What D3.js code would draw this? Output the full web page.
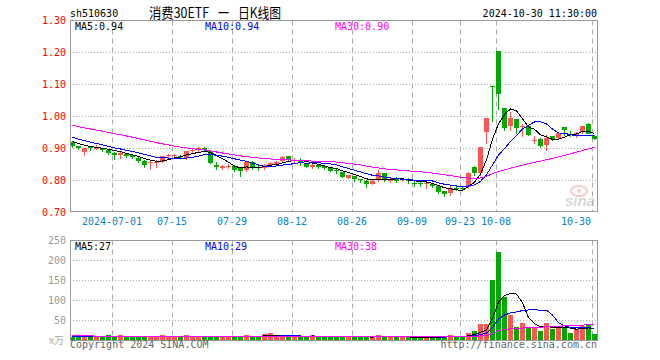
<!DOCTYPE html>
<html>
<head>
<meta charset="utf-8">
<script src="https://cdn.jsdelivr.net/npm/d3@7"></script>
<style>
  body { margin: 0; background: #fff; }
  svg { display: block; }
  text { font-family: "DejaVu Sans Mono", monospace; font-size: 10px; }
</style>
</head>
<body>
<svg id="chart" width="660" height="360"></svg>
<script>
// trading days shown (2024)
var dates = ["06-20","06-21","06-24","06-25","06-26","06-27","06-28",
  "07-01","07-02","07-03","07-04","07-05","07-08","07-09","07-10","07-11","07-12","07-15","07-16","07-17","07-18","07-19","07-22","07-23","07-24","07-25","07-26","07-29","07-30","07-31",
  "08-01","08-02","08-05","08-06","08-07","08-08","08-09","08-12","08-13","08-14","08-15","08-16","08-19","08-20","08-21","08-22","08-23","08-26","08-27","08-28","08-29","08-30",
  "09-02","09-03","09-04","09-05","09-06","09-09","09-10","09-11","09-12","09-13","09-18","09-19","09-20","09-23","09-24","09-25","09-26","09-27","09-30",
  "10-08","10-09","10-10","10-11","10-14","10-15","10-16","10-17","10-18","10-21","10-22","10-23","10-24","10-25","10-28","10-29","10-30"];

var opens = [0.920,0.906,0.889,0.904,0.898,0.900,0.895,0.886,0.880,0.883,0.878,0.870,0.860,0.852,0.856,0.858,0.874,0.877,0.877,0.869,
  0.890,0.893,0.900,0.890,0.848,0.839,0.844,0.844,0.837,0.831,0.858,0.842,0.838,0.848,0.850,0.861,0.875,0.861,0.862,0.852,
  0.841,0.848,0.844,0.840,0.833,0.825,0.808,0.813,0.802,0.798,0.789,0.800,0.821,0.798,0.806,0.801,0.802,0.792,0.790,0.789,
  0.789,0.780,0.765,0.760,0.774,0.775,0.779,0.842,0.821,0.951,1.096,1.204,1.025,0.969,0.991,0.968,0.969,0.925,0.930,0.909,
  0.938,0.932,0.966,0.944,0.940,0.951,0.977,0.938];
var highs = [0.922,0.908,0.902,0.906,0.910,0.902,0.896,0.888,0.887,0.885,0.880,0.871,0.862,0.860,0.862,0.877,0.881,0.883,0.879,0.891,
  0.900,0.903,0.903,0.892,0.857,0.846,0.850,0.847,0.838,0.858,0.860,0.846,0.850,0.857,0.860,0.876,0.877,0.869,0.869,0.853,
  0.852,0.850,0.845,0.841,0.834,0.826,0.817,0.814,0.804,0.800,0.803,0.831,0.823,0.806,0.810,0.806,0.806,0.797,0.795,0.793,
  0.791,0.781,0.767,0.781,0.780,0.781,0.826,0.844,0.905,0.996,1.096,1.204,1.026,1.014,0.992,0.977,0.970,0.938,0.933,0.942,
  0.939,0.948,0.967,0.954,0.952,0.971,0.978,0.940];
var lows = [0.905,0.896,0.878,0.893,0.897,0.890,0.882,0.865,0.870,0.873,0.868,0.858,0.842,0.836,0.840,0.856,0.872,0.871,0.869,0.867,
  0.888,0.891,0.890,0.853,0.836,0.836,0.838,0.829,0.814,0.829,0.836,0.833,0.834,0.846,0.849,0.859,0.860,0.856,0.846,0.840,
  0.837,0.839,0.835,0.828,0.821,0.809,0.806,0.798,0.793,0.777,0.787,0.798,0.798,0.795,0.795,0.796,0.792,0.781,0.781,0.774,
  0.778,0.760,0.750,0.752,0.768,0.771,0.778,0.816,0.817,0.917,0.986,1.022,0.958,0.958,0.948,0.938,0.940,0.915,0.903,0.895,
  0.927,0.930,0.941,0.937,0.936,0.949,0.948,0.929];
var closes = [0.907,0.901,0.900,0.900,0.905,0.893,0.884,0.880,0.886,0.875,0.871,0.860,0.847,0.858,0.858,0.876,0.880,0.878,0.871,0.890,
  0.895,0.900,0.893,0.855,0.842,0.845,0.845,0.831,0.829,0.856,0.838,0.841,0.846,0.855,0.857,0.873,0.862,0.862,0.854,0.841,
  0.848,0.841,0.837,0.829,0.827,0.811,0.815,0.804,0.801,0.788,0.798,0.821,0.800,0.803,0.798,0.802,0.796,0.791,0.789,0.792,
  0.780,0.763,0.756,0.775,0.772,0.773,0.823,0.823,0.904,0.994,1.094,1.069,0.964,0.994,0.964,0.970,0.941,0.927,0.907,0.932,
  0.930,0.947,0.957,0.943,0.946,0.968,0.945,0.930];
// volume, unit 10k lots
var volumes = [8,7,12,7,8,7,12,8,12,7,8,8,9,9,8,12,8,7,7,12,
  9,8,8,11,8,7,7,8,9,12,8,8,15,17,8,9,8,7,8,8,
  12,7,11,8,8,9,7,7,7,8,8,13,9,7,7,8,7,7,7,8,
  7,8,8,12,7,8,18,22,40,40,150,220,108,63,33,42,32,33,23,42,
  27,32,31,18,27,35,40,15];

// sessions before 06-20, only feed the moving averages at the left edge
var closesBefore = [1.020,1.015,1.010,1.005,1.000,1.000,0.995,0.990,0.990,0.985,0.985,0.980,0.980,0.985,0.990,0.985,0.980,0.975,0.970,0.965,
  0.955,0.950,0.948,0.945,0.940,0.930,0.925,0.922,0.918];
var volumesBefore = [12,14,11,13,12,10,11,13,12,11,10,12,11,10,11,12,10,11,9,10,10,9,10,9,8,9,8,9,8];

var tickDates = ["07-01","07-15","07-29","08-12","08-26","09-09","09-23","10-08","10-30"];
var tickLabels = ["2024-07-01","07-15","07-29","08-12","08-26","09-09","09-23","10-08","10-30"];
var priceTicks = [0.70,0.80,0.90,1.00,1.10,1.20,1.30];
var volTicks = [50,100,150,200,250];
var maLabels = ["MA5:0.94","MA10:0.94","MA30:0.90"];
var volMaLabels = ["MA5:27","MA10:29","MA30:38"];
var maColors = ["#000000","#0000ff","#ff00ff"];
var maPeriods = [5,10,30];
var titleParts = ["消费30ETF", "一", "日K线图"];

var RED = "#ff5555", GREEN = "#00a800", GRID = "#aaaaaa", FRAME = "#999999";

var svg = d3.select("#chart");

var x = d3.scaleBand().domain(dates).range([69.5, 597.5]).paddingInner(1/6).paddingOuter(1/12);
var yP = d3.scaleLinear().domain([0.7, 1.3]).range([212, 20.5]);
var yV = d3.scaleLinear().domain([0, 250]).range([340, 240]);

var bars = dates.map(function(d, i){
  return {date: d, o: opens[i], h: highs[i], l: lows[i], c: closes[i], v: volumes[i], up: closes[i] >= opens[i]};
});

function movingAvg(vals, before, n){
  var all = before.concat(vals), off = before.length;
  return vals.map(function(v, i){
    var s = 0;
    for (var k = off + i - n + 1; k <= off + i; k++) s += all[k];
    return s / n;
  });
}

// ---- grids ----
svg.append("g").selectAll("line").data([0.8,0.9,1.0,1.1,1.2]).join("line")
  .attr("x1", 70).attr("x2", 597)
  .attr("y1", function(d){ return Math.round(yP(d)) + 0.5; })
  .attr("y2", function(d){ return Math.round(yP(d)) + 0.5; })
  .attr("stroke", GRID).attr("stroke-dasharray", "1,2");
svg.append("g").selectAll("line").data([50,100,150,200]).join("line")
  .attr("x1", 70).attr("x2", 597)
  .attr("y1", function(d){ return yV(d) + 0.5; })
  .attr("y2", function(d){ return yV(d) + 0.5; })
  .attr("stroke", GRID).attr("stroke-dasharray", "1,2");

[[20.5, 211.5], [240.5, 340.5]].forEach(function(r){
  svg.append("g").selectAll("line").data(tickDates).join("line")
    .attr("x1", function(d){ return x(d) + 0.5; })
    .attr("x2", function(d){ return x(d) + 0.5; })
    .attr("y1", r[0]).attr("y2", r[1])
    .attr("stroke", GRID).attr("stroke-dasharray", "5,4");
});

// ---- watermark ----
var wm = svg.append("g").attr("opacity", 0.55);
wm.append("ellipse").attr("cx", 579).attr("cy", 191).attr("rx", 8).attr("ry", 5)
  .attr("fill", "none").attr("stroke", "#f0a0a0").attr("stroke-width", 2);
wm.append("circle").attr("cx", 579).attr("cy", 191).attr("r", 2).attr("fill", "#f0a0a0");
wm.append("text").attr("x", 565).attr("y", 206)
  .style("font-family", "Arial, 'Liberation Sans', sans-serif").style("font-size", "15px")
  .style("font-style", "italic").style("font-weight", "bold")
  .attr("fill", "#b8b8b8").text("sina");

// ---- candles ----
var cg = svg.append("g").attr("shape-rendering", "crispEdges");
cg.selectAll("line").data(bars).join("line")
  .attr("x1", function(d){ return x(d.date) + 2.5; })
  .attr("x2", function(d){ return x(d.date) + 2.5; })
  .attr("y1", function(d){ return Math.round(yP(d.h)); })
  .attr("y2", function(d){ return Math.round(yP(d.l)) + 1; })
  .attr("stroke", function(d){ return d.up ? RED : GREEN; });
cg.selectAll("rect").data(bars).join("rect")
  .attr("x", function(d){ return x(d.date); })
  .attr("width", x.bandwidth())
  .attr("y", function(d){ return Math.round(yP(Math.max(d.o, d.c))); })
  .attr("height", function(d){
    return Math.max(1, Math.round(yP(Math.min(d.o, d.c))) - Math.round(yP(Math.max(d.o, d.c))));
  })
  .attr("fill", function(d){ return d.up ? RED : GREEN; });

// ---- volume bars ----
svg.append("g").attr("shape-rendering", "crispEdges")
  .selectAll("rect").data(bars).join("rect")
  .attr("x", function(d){ return x(d.date); })
  .attr("width", x.bandwidth())
  .attr("y", function(d){ return Math.round(yV(d.v)); })
  .attr("height", function(d){ return 341 - Math.round(yV(d.v)); })
  .attr("fill", function(d){ return d.up ? RED : GREEN; });

// ---- moving averages ----
function drawMA(vals, before, yScale){
  maPeriods.forEach(function(n, k){
    var m = movingAvg(vals, before, n);
    var line = d3.line()
      .x(function(d, i){ return x(dates[i]) + 2.5; })
      .y(function(d){ return yScale(d); });
    svg.append("path").datum(m).attr("d", line)
      .attr("fill", "none").attr("stroke", maColors[k]).attr("stroke-width", 1)
      .attr("shape-rendering", "crispEdges");
  });
}
drawMA(closes, closesBefore, yP);
drawMA(volumes, volumesBefore, yV);

// ---- frames ----
svg.append("rect").attr("x", 70.5).attr("y", 20.5).attr("width", 527).attr("height", 191)
  .attr("fill", "none").attr("stroke", FRAME);
svg.append("rect").attr("x", 70.5).attr("y", 240.5).attr("width", 527).attr("height", 100)
  .attr("fill", "none").attr("stroke", FRAME);

// ---- axes ----
var ya = svg.append("g").attr("transform", "translate(70,0)")
  .call(d3.axisLeft(yP).tickValues(priceTicks).tickFormat(d3.format(".2f")).tickSize(0).tickPadding(4));
ya.select(".domain").remove();
ya.selectAll("text").attr("fill", "#ff0000").style("font-family", "DejaVu Sans Mono, monospace").style("font-size", "10px");

var va = svg.append("g").attr("transform", "translate(70,0)")
  .call(d3.axisLeft(yV).tickValues(volTicks).tickSize(0).tickPadding(4));
va.select(".domain").remove();
va.selectAll("text").attr("fill", "#999999").style("font-family", "DejaVu Sans Mono, monospace").style("font-size", "10px");
svg.append("text").attr("x", 64).attr("y", 344).attr("text-anchor", "end")
  .attr("fill", "#aaaaaa").style("font-family", "'Noto Sans CJK SC', sans-serif").style("font-size", "10px").text("x万");

svg.append("g").selectAll("text").data(tickDates).join("text")
  .attr("x", function(d, i){ return i === tickDates.length - 1 ? x(d) - 1 : x(d); })
  .attr("y", 225)
  .attr("text-anchor", function(d, i){ return i === tickDates.length - 1 ? "end" : "middle"; })
  .attr("fill", "#0a7fd0")
  .text(function(d, i){ return tickLabels[i]; });

// ---- labels ----
var labelX = [75, 205, 335];
svg.append("g").selectAll("text").data(maLabels).join("text")
  .attr("x", function(d, i){ return labelX[i]; }).attr("y", 30)
  .attr("fill", function(d, i){ return maColors[i]; }).text(function(d){ return d; });
svg.append("g").selectAll("text").data(volMaLabels).join("text")
  .attr("x", function(d, i){ return labelX[i]; }).attr("y", 250)
  .attr("fill", function(d, i){ return maColors[i]; }).text(function(d){ return d; });

svg.append("text").attr("x", 70).attr("y", 17).attr("fill", "#000").text("sh510630");
var titleX = [149, 218, 238], titleW = [60, 11, 43];
svg.append("g").selectAll("text").data(titleParts).join("text")
  .attr("x", function(d, i){ return titleX[i]; }).attr("y", 18).attr("fill", "#000")
  .attr("textLength", function(d, i){ return titleW[i]; }).attr("lengthAdjust", "spacingAndGlyphs")
  .style("font-family", "'Noto Sans CJK SC', sans-serif").style("font-size", "14px")
  .text(function(d){ return d; });
svg.append("text").attr("x", 597).attr("y", 17).attr("text-anchor", "end").attr("fill", "#000")
  .text("2024-10-30 11:30:00");

svg.append("text").attr("x", 70).attr("y", 348).attr("fill", "#666").text("Copyright 2024 SINA.COM");
svg.append("text").attr("x", 597).attr("y", 348).attr("text-anchor", "end").attr("fill", "#666")
  .text("http://finance.sina.com.cn");
</script>
</body>
</html>
